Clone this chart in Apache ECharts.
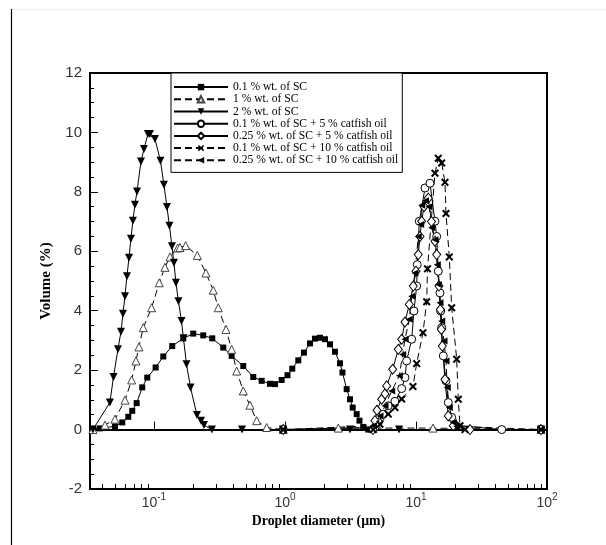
<!DOCTYPE html>
<html>
<head>
<meta charset="utf-8">
<script src="https://cdn.jsdelivr.net/npm/echarts@6/dist/echarts.min.js"></script>
<style>html,body{margin:0;padding:0;background:#fff;}#c{width:606px;height:545px;}</style>
</head>
<body>
<div id="c"></div>
<script>
// ---- data (droplet diameter in µm, volume in %) ----
const names = [
  '0.1 % wt. of SC',
  '1 % wt. of SC',
  '2 % wt. of SC',
  '0.1 % wt. of SC + 5 % catfish oil',
  '0.25 % wt. of SC + 5 % catfish oil',
  '0.1 % wt. of SC + 10 % catfish oil',
  '0.25 % wt. of SC + 10 % catfish oil'
];
const d_SC01 = [0.0344,0.0387,0.0504,0.0573,0.0637,0.0683,0.0738,0.0814,0.0889,0.103,0.1178,0.1379,0.1674,0.1995,0.2378,0.2786,0.3381,0.3918,0.4805,0.5728,0.6639,0.7684,0.8389,0.9436,1.045,1.137,1.264,1.396,1.552,1.694,1.85,2.02,2.206,2.408,2.63,2.748,2.958,3.135,3.288,3.526,3.704,3.96,4.324,4.591,90];
const v_SC01 = [0,0.04,0.11,0.24,0.43,0.63,0.89,1.42,1.75,2.09,2.46,2.81,3.07,3.23,3.17,3.07,2.76,2.48,2.14,1.77,1.64,1.54,1.53,1.67,1.83,2.05,2.33,2.59,2.90,3.06,3.09,3.04,2.87,2.62,2.23,1.92,1.36,1.02,0.74,0.52,0.30,0.09,0,0,0];

const d_SC1 = [0.0342,0.0423,0.0504,0.0601,0.0676,0.0729,0.0768,0.0829,0.096,0.1098,0.1213,0.1325,0.1517,0.1579,0.1746,0.2141,0.2494,0.2836,0.3096,0.3545,0.3918,0.4279,0.4805,0.5405,0.6081,0.7252,0.970,2.553,13.49,90];
const v_SC1 = [0,0.15,0.35,0.99,1.67,2.31,2.78,3.43,4.10,4.94,5.46,5.81,6.11,6.13,6.19,5.86,5.27,4.69,4.10,3.37,2.70,1.97,1.30,0.82,0.30,0.07,0,0.05,0.05,0];

const d_SC2 = [0.0342,0.0461,0.0491,0.0531,0.056,0.058,0.0601,0.0622,0.0645,0.0667,0.0691,0.0716,0.0742,0.0796,0.0839,0.09,0.0932,0.1018,0.1121,0.1192,0.1257,0.1313,0.1372,0.1421,0.1472,0.1538,0.1622,0.168,0.1771,0.19,0.2129,0.2285,0.2408,0.2772,0.4697,0.9654,3.135,7.418,90];
const v_SC2 = [0,0.91,1.77,2.70,3.29,3.90,4.49,5.16,5.78,6.42,7.03,7.57,8.01,9.02,9.44,9.95,9.95,9.78,9.05,8.24,7.49,6.86,6.17,5.61,4.94,4.32,3.65,3.07,2.20,1.42,0.49,0.30,0.15,0,0,0,0,0,0];

const d_SC01_O5 = [0.970,4.864,5.155,5.628,6.145,6.913,7.776,8.241,8.492,9.273,9.654,10.12,10.23,10.60,11.72,12.79,13.96,14.39,14.80,15.25,15.44,15.71,16.16,16.94,17.64,18.73,19.85,45.1,90];
const v_SC01_O5 = [0,0.07,0.24,0.52,0.80,0.95,1.38,1.75,2.31,3.04,3.99,4.83,5.55,7.01,8.13,8.29,7.01,6.50,5.33,4.60,3.99,3.43,2.48,1.64,0.91,0.41,0.15,0,0];

const d_SC025_O5 = [0.970,4.697,4.864,5.039,5.472,5.800,5.975,6.639,7.328,7.776,8.241,8.891,9.537,10.0,10.41,10.73,11.05,11.51,12.42,13.13,13.96,14.39,14.98,15.33,15.60,15.88,16.65,17.64,19.27,25.83,90];
const v_SC025_O5 = [0,0,0.30,0.65,1.02,1.20,1.47,2.03,2.70,3.04,3.62,4.21,4.83,5.33,5.89,6.50,7.01,7.50,7.79,7.00,6.34,5.89,4.83,4.04,3.37,2.81,1.69,0.46,0.13,0,0];

const d_SC01_O10 = [0.970,4.721,5.312,6.145,6.913,7.776,9.486,10.12,11.31,12.07,12.24,13.96,14.80,15.71,16.65,16.94,17.96,18.73,20.45,21.03,21.67,23.66,90];
const v_SC01_O10 = [0,0,0.18,0.52,0.74,1.03,1.45,2.22,3.26,4.30,5.41,8.63,9.13,8.97,8.32,7.27,5.81,4.10,2.37,1.02,0.13,0,0];

const d_SC025_O10 = [0.970,4.721,5.312,5.800,6.524,7.458,7.915,8.241,8.891,9.273,9.826,10.41,10.86,11.05,11.82,12.57,13.18,13.96,14.54,14.80,15.25,15.71,16.36,16.94,17.34,17.96,19.27,20.45,90];
const v_SC025_O10 = [0,0.13,0.46,0.80,1.30,1.81,2.53,3.04,3.71,4.49,5.27,6.50,6.90,7.55,7.70,7.50,6.79,6.39,5.55,4.88,4.27,3.65,2.98,2.31,1.42,0.74,0.24,0.11,0];

// axis ticks
const xMin = 0.0325, xMax = 100;
const yMin = -2, yMax = 12, yStep = 2;
const xMinorTicks = [0.04,0.05,0.06,0.07,0.08,0.09,0.2,0.3,0.4,0.5,0.6,0.7,0.8,0.9,2,3,4,5,6,7,8,9,20,30,40,50,60,70,80,90];

// ---- chart ----
const zip = (xs, ys) => xs.map((x, i) => [x, ys[i]]);
const XSYM = 'path://M0,1.8L1.8,0L5,3.2L8.2,0L10,1.8L6.8,5L10,8.2L8.2,10L5,6.8L1.8,10L0,8.2L3.2,5Z';
const solid = {color: '#000', width: 1, type: 'solid'};
const dashed = {color: '#000', width: 1, type: [7, 4]};
const filled = {color: '#000', borderColor: '#000', borderWidth: 0};
const open = {color: '#fff', borderColor: '#000', borderWidth: 1};

function line(name, xs, ys, symbol, size, ls, is, rot) {
  return {
    type: 'line', name: name, data: zip(xs, ys),
    symbol: symbol, symbolSize: size, symbolRotate: rot || 0,
    showSymbol: true, showAllSymbol: true, animation: false,
    lineStyle: ls, itemStyle: is, z: 3
  };
}

const chart = echarts.init(document.getElementById('c'), null, {renderer: 'canvas'});
chart.setOption({
  animation: false,
  backgroundColor: '#fff',
  grid: {left: 90, top: 73, right: 59, bottom: 56, show: true, borderColor: '#000', borderWidth: 2, backgroundColor: 'transparent'},
  graphic: [
    {type: 'line', shape: {x1: 11.5, y1: 9, x2: 11.5, y2: 545}, style: {stroke: '#000', lineWidth: 1.2}, silent: true},
    {type: 'line', shape: {x1: 12, y1: 9.5, x2: 606, y2: 9.5}, style: {stroke: '#eeeeee', lineWidth: 1}, silent: true}
  ],
  legend: {
    orient: 'vertical', left: 171, top: 73,
    data: names,
    itemWidth: 54, itemHeight: 8, itemGap: 0,
    padding: [8, 4, 6, 2],
    borderColor: '#000', borderWidth: 1, backgroundColor: '#fff',
    textStyle: {fontFamily: 'Liberation Serif', fontSize: 11.6, color: '#000', lineHeight: 12.2},
    selectedMode: false
  },
  xAxis: {
    type: 'log', logBase: 10, min: xMin, max: xMax,
    splitLine: {show: false},
    axisLine: {lineStyle: {color: '#000', width: 2}},
    axisTick: {inside: true, length: 8, lineStyle: {color: '#000', width: 1}},
    axisLabel: {
      showMinLabel: false, margin: 3,
      formatter: v => '{b|10}{s|' + Math.round(Math.log10(v)) + '}',
      rich: {
        b: {fontFamily: 'Liberation Sans', fontSize: 14, color: '#333', lineHeight: 18, verticalAlign: 'bottom'},
        s: {fontFamily: 'Liberation Sans', fontSize: 10, color: '#333', lineHeight: 18, verticalAlign: 'top', padding: [0, 0, 6, 0]}
      }
    },
    name: 'Droplet diameter (µm)', nameLocation: 'middle', nameGap: 20,
    nameTextStyle: {fontFamily: 'Liberation Serif', fontWeight: 'bold', fontSize: 13.8, color: '#000'}
  },
  yAxis: {
    type: 'value', min: yMin, max: yMax, interval: yStep,
    splitLine: {show: false},
    axisLine: {lineStyle: {color: '#000', width: 2}},
    axisTick: {inside: true, length: 8, lineStyle: {color: '#000', width: 1}},
    minorTick: {show: true, splitNumber: 4, length: 4, lineStyle: {color: '#000', width: 1}},
    axisLabel: {fontFamily: 'Liberation Sans', fontSize: 15, color: '#333', margin: 8},
    name: 'Volume (%)', nameLocation: 'middle', nameGap: 36,
    nameTextStyle: {fontFamily: 'Liberation Serif', fontWeight: 'bold', fontSize: 15, color: '#000'}
  },
  series: [
    line(names[0], d_SC01, v_SC01, 'rect', 6, solid, filled),
    line(names[1], d_SC1, v_SC1, 'triangle', 8, dashed, {color: '#fff', borderColor: '#444', borderWidth: 1}),
    line(names[2], d_SC2, v_SC2, 'triangle', 8, solid, filled, 180),
    line(names[3], d_SC01_O5, v_SC01_O5, 'circle', 8, solid, open),
    line(names[4], d_SC025_O5, v_SC025_O5, 'diamond', [8, 10], solid, open),
    line(names[5], d_SC01_O10, v_SC01_O10, XSYM, 8, dashed, filled),
    line(names[6], d_SC025_O10, v_SC025_O10, 'triangle', 7, dashed, filled, 90),
    {
      type: 'custom', name: 'minorTicks', silent: true, z: 5,
      data: xMinorTicks.map(v => [v, yMin]),
      encode: {x: 0, y: 1},
      renderItem: (params, api) => {
        const p = api.coord([api.value(0), api.value(1)]);
        return {type: 'line', shape: {x1: Math.round(p[0]) + 0.5, y1: p[1], x2: Math.round(p[0]) + 0.5, y2: p[1] - 5}, style: {stroke: '#000', lineWidth: 1}};
      }
    }
  ]
});
</script>
</body>
</html>
